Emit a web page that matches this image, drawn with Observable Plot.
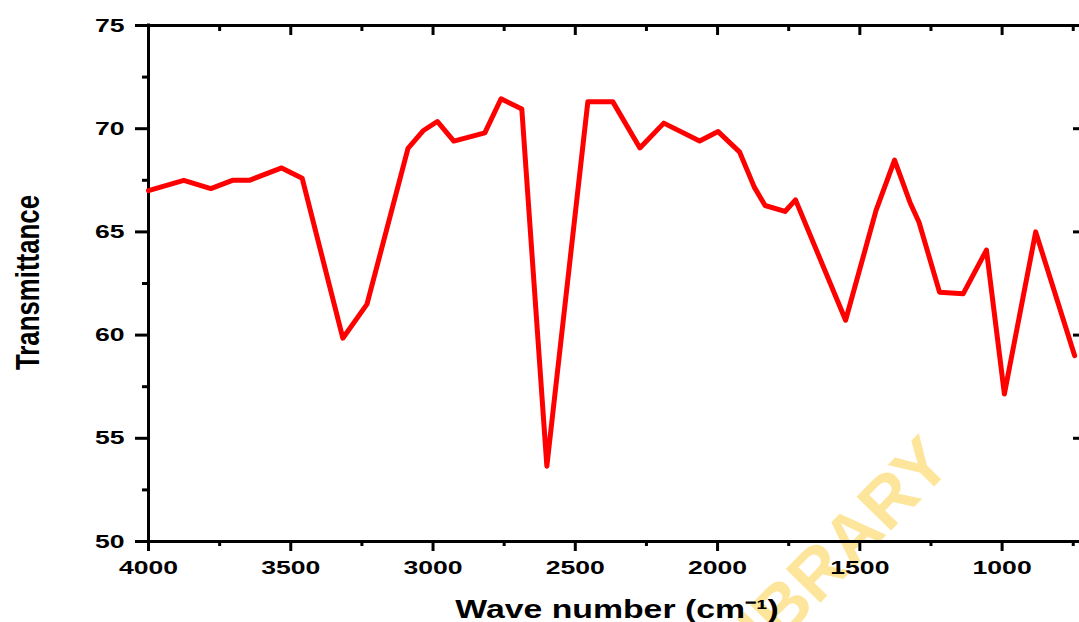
<!DOCTYPE html>
<html>
<head>
<meta charset="utf-8">
<script src="https://cdn.jsdelivr.net/npm/d3@7"></script>
<script src="https://cdn.jsdelivr.net/npm/@observablehq/plot@0.6"></script>
<style>
  html, body { margin: 0; padding: 0; background: #fff; }
  #chart svg { display: block; }
</style>
</head>
<body>
<div id="chart"></div>
<script>
// Wave number (cm^-1)
const waveNumber = [4000, 3876, 3781, 3705, 3646, 3532, 3460, 3317, 3232, 3088, 3035, 2985, 2927, 2818, 2761, 2688, 2600, 2456, 2368, 2273, 2189, 2063, 1998, 1923, 1871, 1833, 1763, 1726, 1550, 1443, 1378, 1324, 1292, 1220, 1137, 1055, 992, 882, 745];
// Transmittance
const transmittance = [67.0, 67.5, 67.1, 67.5, 67.5, 68.1, 67.6, 59.85, 61.5, 69.05, 69.9, 70.35, 69.4, 69.8, 71.45, 70.95, 53.65, 71.3, 71.3, 69.07, 70.27, 69.4, 69.86, 68.88, 67.17, 66.28, 65.99, 66.55, 60.72, 66.04, 68.48, 66.44, 65.47, 62.08, 62.0, 64.12, 57.15, 65.0, 59.0];

const xMajor = [4000, 3500, 3000, 2500, 2000, 1500, 1000];
const xMinor = [3750, 3250, 2750, 2250, 1750, 1250, 750];
const yMajor = [50, 55, 60, 65, 70, 75];
const yMinor = [52.5, 57.5, 62.5, 67.5, 72.5];

const xLabel = "Wave number (cm\u207B\u00B9)";
const yLabel = "Transmittance";
const watermark = "LIBRARY";

const data = waveNumber.map((w, i) => ({w, t: transmittance[i]}));

const tickStyle = {strokeWidth: 3, stroke: "black"};

const svg = Plot.plot({
  width: 1079,
  height: 622,
  marginLeft: 148,
  marginRight: 0,
  marginTop: 25,
  marginBottom: 81,
  style: {fontFamily: "'Liberation Sans', Arial, sans-serif", fontWeight: "bold", background: "white", color: "black"},
  x: {domain: [4000, 728]},
  y: {domain: [50, 75]},
  marks: [
    Plot.text([watermark], {frameAnchor: "top-left", textAnchor: "middle", dx: 662, dy: 516, rotate: -45.6, fontSize: 70, fontWeight: "bold", fill: "#fde59c", text: d => d}),
    // bottom axis
    Plot.axisX({anchor: "bottom", ticks: xMajor, tickSize: 10, tickPadding: 9, tickFormat: "d", fontSize: 19, fontWeight: "bold", fill: "black", label: null, ...tickStyle}),
    Plot.axisX({anchor: "bottom", ticks: xMinor, tickSize: 5, text: null, label: null, ...tickStyle}),
    // top axis (inward ticks)
    Plot.axisX({anchor: "top", ticks: xMajor, tickSize: 9, dy: 9, text: null, label: null, ...tickStyle}),
    Plot.axisX({anchor: "top", ticks: xMinor, tickSize: 5, dy: 5, text: null, label: null, ...tickStyle}),
    // left axis
    Plot.axisY({anchor: "left", ticks: yMajor, tickSize: 13, tickPadding: 11, fontSize: 19, fontWeight: "bold", fill: "black", label: null, ...tickStyle}),
    Plot.axisY({anchor: "left", ticks: yMinor, tickSize: 6, text: null, label: null, ...tickStyle}),
    // right axis (inward ticks)
    Plot.axisY({anchor: "right", ticks: yMajor, tickSize: 7, dx: -7, text: null, label: null, ...tickStyle}),
    // spines
    Plot.ruleY([75], {strokeWidth: 3, stroke: "black"}),
    Plot.ruleY([50], {strokeWidth: 3, stroke: "black"}),
    Plot.ruleX([4000], {strokeWidth: 3, stroke: "black", strokeLinecap: "square"}),
    // data line
    Plot.line(data, {x: "w", y: "t", stroke: "#ff0000", strokeWidth: 5, strokeLinejoin: "round"}),
    // axis titles
    Plot.text([xLabel], {frameAnchor: "bottom", dx: 3, dy: 68, fontSize: 26, fontWeight: "bold", fill: "black", lineAnchor: "middle", text: d => d}),
    Plot.text([yLabel], {frameAnchor: "left", textAnchor: "middle", dx: -120, dy: -1, rotate: -90, fontSize: 34, fontWeight: "bold", fill: "black", text: d => d})
  ]
});

function stretch(t, sx, sy) {
  const x = +t.getAttribute("x") || 0, y = +t.getAttribute("y") || 0;
  const tr = t.getAttribute("transform") || "";
  t.setAttribute("transform", `${tr} translate(${x},${y}) scale(${sx},${sy}) translate(${-x},${-y})`);
}
svg.querySelectorAll("text").forEach(t => {
  const s = t.textContent;
  if (s === yLabel) stretch(t, 0.76, 1);
  else if (s === xLabel) stretch(t, 1.3, 1);
  else if (s === watermark) {}
  else stretch(t, 1.4, 1);
});

document.getElementById("chart").appendChild(svg);
</script>
</body>
</html>
